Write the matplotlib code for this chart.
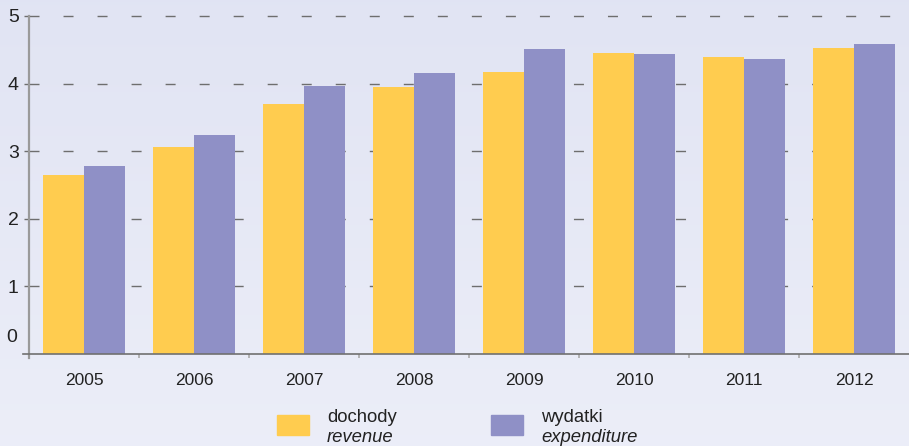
import matplotlib
matplotlib.use("Agg")
import matplotlib.pyplot as plt
import numpy as np
from matplotlib.patches import Rectangle

# Dochody i wydatki, 2005-2012
years = ["2005", "2006", "2007", "2008", "2009", "2010", "2011", "2012"]
revenue = [2.65, 3.06, 3.70, 3.95, 4.17, 4.45, 4.39, 4.53]
expenditure = [2.78, 3.24, 3.96, 4.16, 4.51, 4.44, 4.36, 4.59]
y_ticks = [0, 1, 2, 3, 4, 5]
legend_pl = ["dochody", "wydatki"]
legend_en = ["revenue", "expenditure"]

YELLOW = "#ffcc4f"
PURPLE = "#8f90c6"
TEXT = "#222222"

plt.rcParams["font.family"] = ["Liberation Sans", "DejaVu Sans"]
plt.rcParams["lines.scale_dashes"] = False

W, H = 909, 446
fig = plt.figure(figsize=(W / 100, H / 100), dpi=100)

# soft lavender background, a touch darker at the top
bg = fig.add_axes([0, 0, 1, 1], zorder=-10)
grad = np.linspace(0, 1, 256).reshape(-1, 1)
top = np.array([0.882, 0.894, 0.953])
bot = np.array([0.925, 0.933, 0.973])
img = top + (bot - top) * grad[..., None]
bg.imshow(img, aspect="auto", extent=[0, 1, 0, 1])
bg.axis("off")

x0, x1 = 29, 909
y_zero, unit = 354, 67.6
ax = fig.add_axes([x0 / W, (H - y_zero) / H, (x1 - x0) / W, y_zero / H])
ax.patch.set_alpha(0)
ax.set_xlim(-0.5, len(years) - 0.5)
ax.set_ylim(0, y_zero / unit)

x = np.arange(len(years))
bw = 0.373
ax.bar(x - bw / 2, revenue, width=bw, color=YELLOW, zorder=3)
ax.bar(x + bw / 2, expenditure, width=bw, color=PURPLE, zorder=3)

# dashed gridlines behind the bars
for v in y_ticks[1:]:
    ax.axhline(v, color="#6e6e6e", lw=1.0, linestyle=(0, (7.2, 17.3)), zorder=1)

for s in ["top", "right"]:
    ax.spines[s].set_visible(False)
ax.spines["left"].set_color("#9a9a9a")
ax.spines["left"].set_linewidth(1.6)
ax.spines["left"].set_bounds(-0.06, y_ticks[-1])
ax.spines["bottom"].set_color("#707070")
ax.spines["bottom"].set_linewidth(1.2)
ax.spines["bottom"].set_bounds(-0.555, len(years) - 0.5)
ax.spines["bottom"].set_zorder(4)

ax.set_yticks(y_ticks[1:])
ax.set_yticklabels([str(v) for v in y_ticks[1:]], fontsize=14, color=TEXT)
ax.tick_params(axis="y", length=3.8, width=1.0, color="#6e6e6e", pad=3.5)
ax.text(-0.013, 0.24, str(y_ticks[0]), transform=ax.get_yaxis_transform(),
        ha="right", va="center", fontsize=14, color=TEXT)

ax.set_xticks(x)
ax.set_xticklabels(years, fontsize=12.5, color=TEXT)
ax.tick_params(axis="x", length=0, pad=13.5)
ax.set_xticks(x[:-1] + 0.5, minor=True)
ax.tick_params(axis="x", which="minor", length=3, width=1.2, color="#aaaaaa")

# legend: two-line labels, Polish over italic English
patches = [(277, 491), (YELLOW, PURPLE)]
for i in range(2):
    px = patches[0][i]
    fig.patches.append(Rectangle((px / W, (H - 435) / H), 32 / W, 20 / H,
                                 transform=fig.transFigure, color=patches[1][i]))
    fig.text((px + 50) / W, (H - 418) / H, legend_pl[i], fontsize=13.3,
             color=TEXT, va="center")
    fig.text((px + 50) / W, (H - 438) / H, legend_en[i], fontsize=13.3,
             color=TEXT, va="center", style="italic")

fig.savefig("out.png", dpi=100)
